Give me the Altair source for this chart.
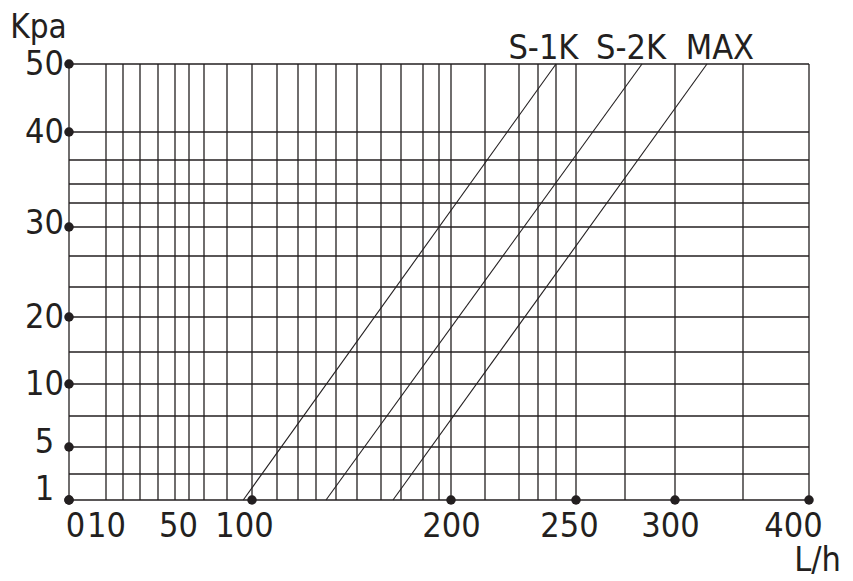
import altair as alt
import pandas as pd

# ---- data -------------------------------------------------------------
# flow values (L/h) of the vertical grid lines
x_grid = [0, 10, 20, 30, 40, 50, 60, 70, 80, 100, 110, 120, 130, 140, 150,
          160, 170, 180, 190, 200, 210, 220, 230, 240, 250, 275, 300, 350, 400]
# pressure values (Kpa) of the horizontal grid lines
y_grid = [1, 3, 5, 7.5, 10, 15, 20, 23, 27, 30, 32.5, 35, 37.5, 40, 50]

x_tick_values = [0, 10, 50, 100, 200, 250, 300, 400]
x_dot_values = [0, 100, 200, 250, 300, 400]
y_tick_values = [1, 5, 10, 20, 30, 40, 50]

series_names = ["S-1K", "S-2K", "MAX"]
flow_at_1kpa = [93, 135, 166]
flow_at_50kpa = [240, 283.5, 323.5]
label_flow = [233, 278, 333]

# ---- non-uniform (piecewise linear) chart scales ----------------------
W, H = 740, 436
X_RANGE = [0, 37, 54, 71, 89, 106, 120, 135, 158, 183, 208, 229, 247, 267, 288,
           312, 332, 354, 370, 382, 416, 450, 469, 487, 507, 556, 606, 674, 740]
Y_RANGE = [436, 410, 383, 352, 320, 288, 253, 223, 192, 163, 139, 120, 96, 68, 0]

INK = "#231f20"
FONT = "'Liberation Sans Narrow', 'DejaVu Sans Condensed', 'Roboto Condensed', Roboto, sans-serif"
FS = 34

x_scale = alt.Scale(type="linear", domain=x_grid, range=X_RANGE, nice=False, zero=False)
y_scale = alt.Scale(type="linear", domain=y_grid, range=Y_RANGE, nice=False, zero=False)

x_axis = alt.Axis(
    values=x_tick_values, title="L/h", grid=False, domain=False, ticks=False,
    tickSize=0, labelPadding=9, labelFont=FONT, labelFontSize=FS, labelColor=INK,
    labelOverlap=False, labelFlush=False, labelAngle=0,
    labelOffset={"condition": [
        {"test": "datum.value == 0", "value": 6},
        {"test": "datum.value == 50", "value": 3},
        {"test": "datum.value == 100", "value": -8},
        {"test": "datum.value == 250", "value": -7},
        {"test": "datum.value == 300", "value": -5},
        {"test": "datum.value == 400", "value": -16},
    ], "value": 0},
    titleFont=FONT, titleFontSize=FS, titleFontWeight="normal", titleColor=INK,
    titleAngle=0, titleAlign="center", titleBaseline="alphabetic",
    titleX=748, titleY=70,
)
y_axis = alt.Axis(
    values=y_tick_values, title="Kpa", grid=False, domain=False, ticks=False,
    tickSize=0, labelPadding=25, labelAlign="center", labelBaseline="middle",
    labelFont=FONT, labelFontSize=FS, labelColor=INK,
    labelOverlap=False, labelFlush=False,
    labelOffset={"condition": [
        {"test": "datum.value == 1", "value": -11},
        {"test": "datum.value == 5", "value": -5},
        {"test": "datum.value == 30", "value": -4},
    ], "value": 0},
    titleFont=FONT, titleFontSize=33, titleFontWeight="normal", titleColor=INK,
    titleAngle=0, titleAlign="center", titleBaseline="alphabetic",
    titleX=-31, titleY=-27,
)

X = lambda: alt.X("flow:Q", scale=x_scale, axis=x_axis)
Y = lambda: alt.Y("kpa:Q", scale=y_scale, axis=y_axis)

vgrid = alt.Chart(pd.DataFrame({"flow": x_grid})).mark_rule(
    color=INK, strokeWidth=1.3).encode(x=X())
hgrid = alt.Chart(pd.DataFrame({"kpa": y_grid})).mark_rule(
    color=INK, strokeWidth=1.3).encode(y=Y())

curve_rows = []
for name, lo, hi in zip(series_names, flow_at_1kpa, flow_at_50kpa):
    curve_rows.append({"series": name, "flow": lo, "kpa": y_tick_values[0]})
    curve_rows.append({"series": name, "flow": hi, "kpa": y_tick_values[-1]})
curves = alt.Chart(pd.DataFrame(curve_rows)).mark_line(
    color=INK, strokeWidth=1.1).encode(x=X(), y=Y(), detail="series:N")

dot_rows = [{"flow": 0, "kpa": v} for v in y_tick_values] + \
           [{"flow": v, "kpa": y_tick_values[0]} for v in x_dot_values]
dots = alt.Chart(pd.DataFrame(dot_rows)).mark_circle(
    size=90, color=INK, opacity=1).encode(x=X(), y=Y())

label_df = pd.DataFrame({"series": series_names, "flow": label_flow,
                         "kpa": [y_tick_values[-1]] * 3})
labels = alt.Chart(label_df).mark_text(
    font=FONT, fontSize=FS, color=INK, baseline="alphabetic", align="center", dy=-5
).encode(x=X(), y=Y(), text="series:N")

chart = alt.layer(vgrid, hgrid, curves, dots, labels).properties(
    width=W, height=H,
    autosize=alt.AutoSizeParams(type="none"),
    padding={"left": 61, "top": 56, "right": 36, "bottom": 78},
    background="white",
).configure_view(stroke=None)

chart.save("out.html", embed_options={"renderer": "svg", "actions": False})
